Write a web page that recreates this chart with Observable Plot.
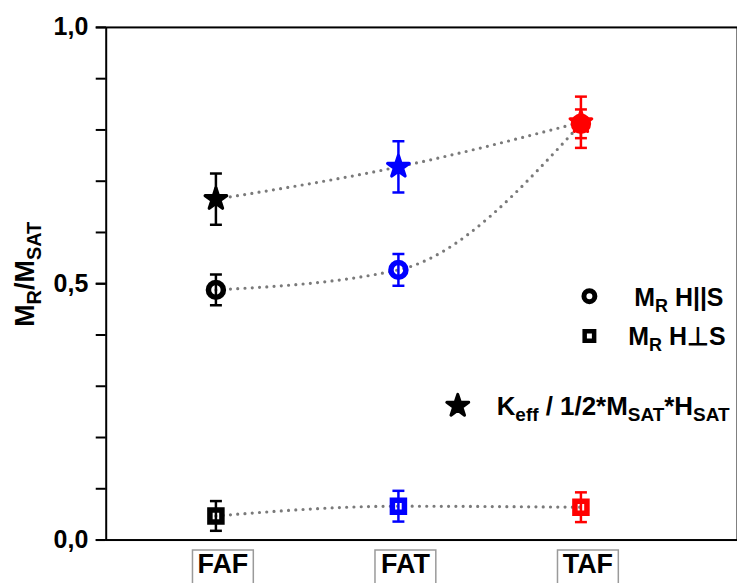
<!DOCTYPE html>
<html>
<head>
<meta charset="utf-8">
<script src="https://cdn.jsdelivr.net/npm/d3@7"></script>
<script src="https://cdn.jsdelivr.net/npm/@observablehq/plot@0.6"></script>
<style>
  html, body { margin: 0; padding: 0; background: white; overflow: hidden; }
  #chart { width: 737px; height: 583px; overflow: hidden; }
</style>
</head>
<body>
<div id="chart"></div>
<script>
// ---- data ----
const categories = ["FAF", "FAT", "TAF"];
const categoryColors = ["#000000", "#0000ff", "#ff0000"];

const circleValues = [0.488, 0.527, 0.812];   // M_R H||S
const circleErrors = [0.030, 0.031, 0.028];

const squareValues = [0.047, 0.066, 0.064];   // M_R H⊥S
const squareErrors = [0.029, 0.030, 0.029];

const starValues = [0.665, 0.728, 0.815];     // Keff / 1/2*Msat*Hsat
const starErrors = [0.050, 0.050, 0.050];

const yTickValues = [0, 0.5, 1];
const yTickLabels = ["0,0", "0,5", "1,0"];
const yMinorTicks = [0, 0.1, 0.2, 0.3, 0.4, 0.5, 0.6, 0.7, 0.8, 0.9, 1.0];

// ---- build rows ----
const rowsOf = (vals, errs) => categories.map((c, i) => ({cat: c, v: vals[i], e: errs[i]}));
const circles = rowsOf(circleValues, circleErrors);
const squares = rowsOf(squareValues, squareErrors);
const stars = rowsOf(starValues, starErrors);
const allRows = [...circles, ...squares, ...stars];

const capSymbol = {draw(ctx, size) { const w = Math.sqrt(size / Math.PI); ctx.moveTo(-w, 0); ctx.lineTo(w, 0); }};
const boxSymbol = {draw(ctx, size) { ctx.rect(-30.5, -21, 61, 46); }};

const dotted = {stroke: "#7a7a7a", strokeWidth: 3.2, strokeDasharray: "0 7.3", strokeLinecap: "round", curve: "monotone-x"};

const plot = Plot.plot({
  width: 739,
  height: 583,
  marginLeft: 106,
  marginRight: 0,
  marginTop: 27,
  marginBottom: 42,
  style: {fontFamily: "'Liberation Sans', Arial, sans-serif", fontWeight: "bold", fontSize: "25px", color: "black", background: "white", overflow: "visible"},
  x: {type: "point", domain: categories, padding: 0.7295, align: 0.412, axis: null},
  y: {domain: [0, 1], label: null},
  color: {domain: categories, range: categoryColors},
  marks: [
    Plot.frame({stroke: "black", strokeWidth: 2}),
    Plot.axisY(yMinorTicks, {tickSize: 10, tickFormat: () => "", strokeWidth: 2, label: null}),
    Plot.axisY(yTickValues, {tickSize: 10, tickPadding: 8, strokeWidth: 2, label: null,
      tickFormat: d => yTickLabels[yTickValues.indexOf(d)], fontSize: 25, fontWeight: "bold"}),
    // category label boxes
    Plot.dot(categories, {x: d => d, frameAnchor: "bottom", dy: 31, dx: 7, symbol: boxSymbol, r: 1, stroke: "#9a9a9a", strokeWidth: 1.5, fill: "white"}),
    Plot.text(categories, {x: d => d, frameAnchor: "bottom", dy: 33, dx: 7, text: d => d, fontSize: 27, fontWeight: "bold", fill: "black"}),
    // connecting dotted lines
    Plot.line(stars, {x: "cat", y: "v", ...dotted}),
    Plot.line(circles, {x: "cat", y: "v", ...dotted}),
    Plot.line(squares, {x: "cat", y: "v", ...dotted}),
    // markers
    Plot.dot(circles, {x: "cat", y: "v", symbol: "circle", r: 7.5, stroke: "cat", strokeWidth: 5.5, fill: "none"}),
    Plot.dot(squares, {x: "cat", y: "v", symbol: "square", r: 6.8, stroke: "cat", strokeWidth: 5.5, fill: "none"}),
    Plot.dot(stars, {x: "cat", y: "v", symbol: "star", r: 6.8, fill: "cat", stroke: "cat", strokeWidth: 3.2, strokeLinejoin: "round"}),
    // error bars
    Plot.ruleX(allRows, {x: "cat", y1: d => d.v - d.e, y2: d => d.v + d.e, stroke: "cat", strokeWidth: 2.5}),
    Plot.dot(allRows, {x: "cat", y: d => d.v - d.e, symbol: capSymbol, r: 6, stroke: "cat", strokeWidth: 2.5}),
    Plot.dot(allRows, {x: "cat", y: d => d.v + d.e, symbol: capSymbol, r: 6, stroke: "cat", strokeWidth: 2.5})
  ]
});
document.getElementById("chart").appendChild(plot);

// ---- y title and legend (text with subscripts) ----
const svg = d3.select(plot);
const font = "'Liberation Sans', Arial, sans-serif";

function richText(g, x, y, parts, opts = {}) {
  const size = opts.size || 25, subSize = opts.subSize || 18, drop = opts.drop || 6;
  const t = g.append("text").attr("x", x).attr("y", y)
    .attr("font-family", font).attr("font-weight", "bold").attr("font-size", size)
    .attr("fill", "black").attr("text-anchor", opts.anchor || "start");
  if (opts.transform) t.attr("transform", opts.transform).attr("x", 0).attr("y", 0);
  let shift = 0;
  for (const [s, sub] of parts) {
    const target = sub ? drop : 0;
    const ts = t.append("tspan").text(s).attr("dy", target - shift);
    if (sub) ts.attr("font-size", subSize);
    shift = target;
  }
  return t;
}

const g = svg.append("g");
richText(g, 0, 0, [["M", false], ["R", true], ["/M", false], ["SAT", true]],
  {anchor: "middle", transform: "translate(34,275) rotate(-90)", size: 27, subSize: 20, drop: 7});

// legend symbols
g.append("path").attr("d", d3.symbol(d3.symbolCircle, Math.PI * 30)())
  .attr("transform", "translate(591,297)").attr("fill", "none").attr("stroke", "black").attr("stroke-width", 5);
g.append("path").attr("d", d3.symbol(d3.symbolSquare, 90)())
  .attr("transform", "translate(591,337)").attr("fill", "none").attr("stroke", "black").attr("stroke-width", 4.5);
g.append("path").attr("d", d3.symbol(d3.symbolStar, 150)())
  .attr("transform", "translate(459,407)").attr("fill", "black").attr("stroke", "black").attr("stroke-width", 3).attr("stroke-linejoin", "round");

richText(g, 636, 307, [["M", false], ["R", true], [" H||S", false]]);
richText(g, 630, 346, [["M", false], ["R", true], [" H\u22A5S", false]]);
richText(g, 498, 416, [["K", false], ["eff", true], [" / 1/2*M", false], ["SAT", true], ["*H", false], ["SAT", true]], {size: 26, subSize: 19});
</script>
</body>
</html>
